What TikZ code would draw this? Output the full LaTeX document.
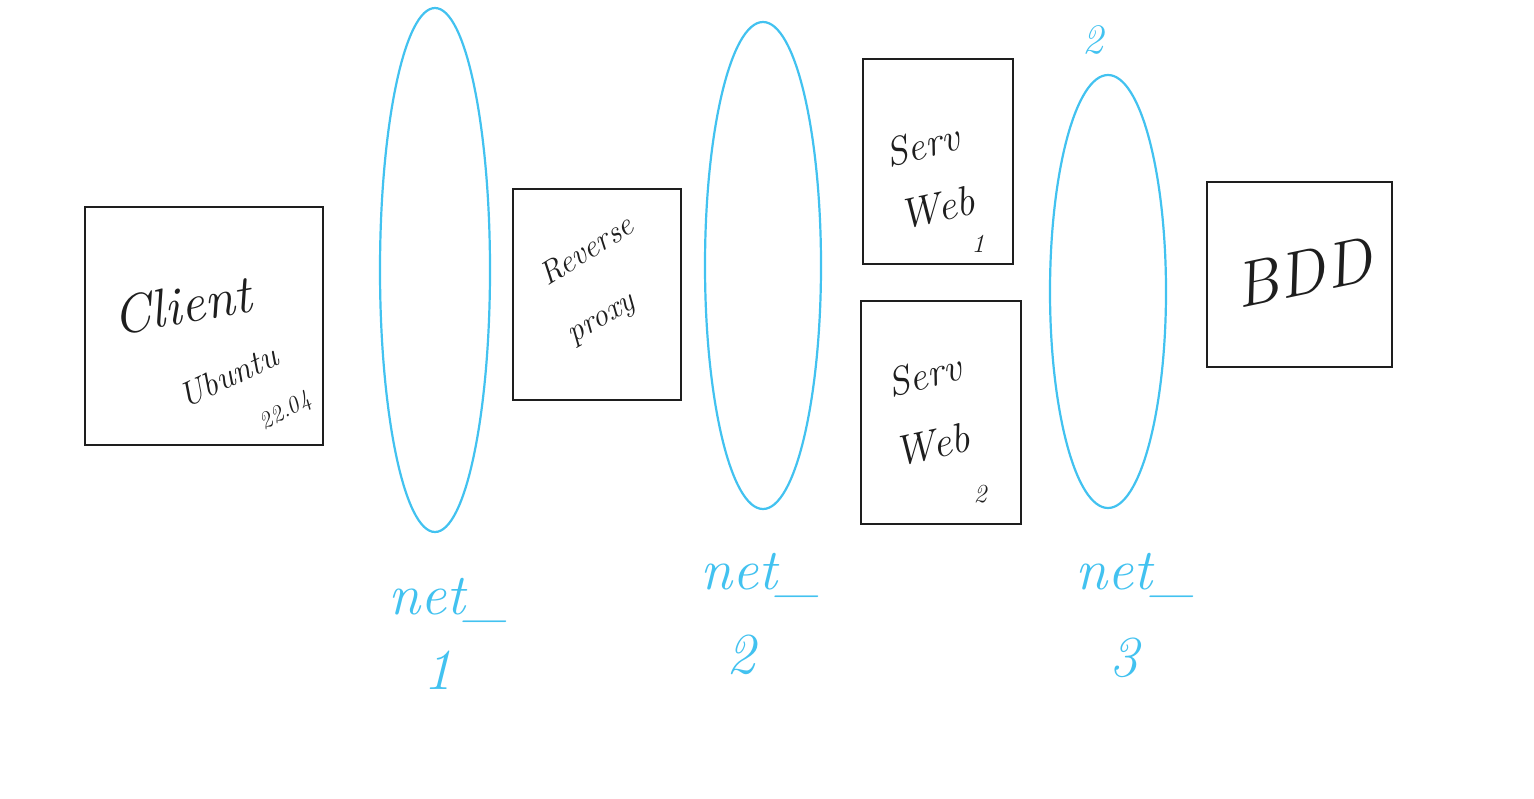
\documentclass[tikz,border=0pt]{standalone}
\usepackage{fontspec}
\setmainfont{Latin Modern Roman}
\definecolor{netblue}{RGB}{66,194,240}
\definecolor{ink}{RGB}{30,30,30}
\tikzset{
  host/.style={draw=ink, line width=1.8pt},
  net/.style={draw=netblue, line width=2.2pt},
  hand/.style={text=ink, inner sep=0pt},
  netlabel/.style={text=netblue, inner sep=0pt},
  fs/.style={font=\itshape\fontsize{#1}{#1}\selectfont},
}
\begin{document}
\begin{tikzpicture}[x=1pt,y=-1pt]
\useasboundingbox (0,0) rectangle (1534,798);
\fill[white] (0,0) rectangle (1534,798);
% hosts
\draw[host] (85,207) rectangle (323,445);
\node[hand, fs=54, rotate=10] (client) at (182,305) {Client};
\node[hand, fs=34, rotate=25] (ubuntu) at (228,376) {Ubuntu};
\node[hand, fs=24, rotate=30] (ver) at (286,412) {22.04};
\draw[host] (513,189) rectangle (681,400);
\node[hand, fs=32, rotate=32] (reverse) at (586,250) {Reverse};
\node[hand, fs=32, rotate=30] (proxyl) at (603,322) {proxy};
\draw[host] (863,59) rectangle (1013,264);
\node[hand, fs=40, rotate=15] (serv1) at (922,145) {Serv};
\node[hand, fs=42, rotate=12] (web1) at (937,208) {Web};
\node[hand, fs=26] (one) at (978,244) {1};
\draw[host] (861,301) rectangle (1021,524);
\node[hand, fs=40, rotate=15] (serv2) at (924,375) {Serv};
\node[hand, fs=42, rotate=12] (web2) at (932,445) {Web};
\node[hand, fs=26] (two) at (980,494) {2};
\draw[host] (1207,182) rectangle (1392,367);
\node[hand, fs=64, rotate=12] (bdd) at (1303,273) {BDD};
% networks
\draw[net] (435,270) ellipse [x radius=55, y radius=262];
\draw[net] (763,265.5) ellipse [x radius=58, y radius=243.5];
\draw[net] (1108,291.5) ellipse [x radius=58, y radius=216.5];
\node[netlabel, fs=58] (n1) at (448,600) {net\_};
\node[netlabel, fs=58] (n1b) at (438,670) {1};
\node[netlabel, fs=58] (n2) at (760,575) {net\_};
\node[netlabel, fs=58] (n2b) at (741,655) {2};
\node[netlabel, fs=58] (n3) at (1135,575) {net\_};
\node[netlabel, fs=58] (n3b) at (1124,658) {3};
\node[netlabel, fs=42] (top2) at (1093,40) {2};
\end{tikzpicture}
\end{document}
